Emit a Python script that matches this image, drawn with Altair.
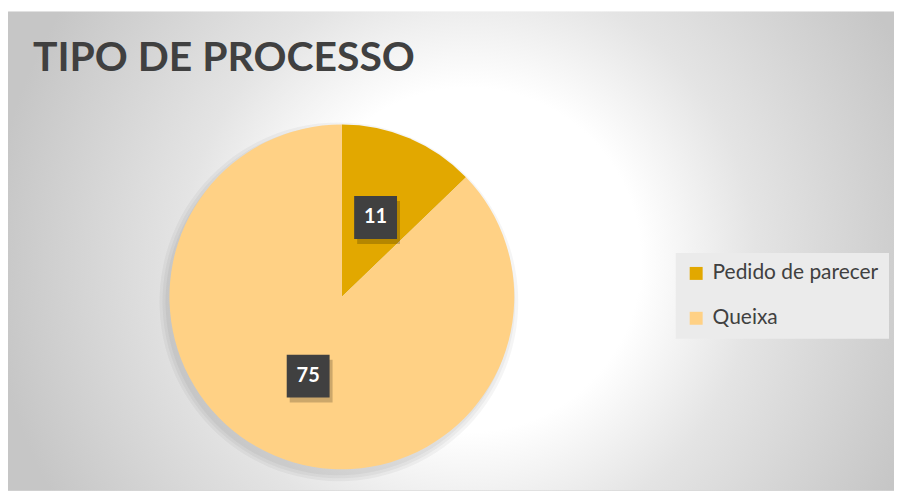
import altair as alt
import pandas as pd

categories = ["Pedido de parecer", "Queixa"]
values = [11, 75]
colors = ["#E2A800", "#FFD185"]
title_text = "TIPO DE PROCESSO"

df = pd.DataFrame({"tipo": categories, "valor": values})

W, H = 889, 480
CX, CY, R = 335, 286, 173

base = alt.Chart(df)

grad = alt.RadialGradient(
    gradient="radial",
    stops=[
        alt.GradientStop(offset=0, color="#ffffff"),
        alt.GradientStop(offset=0.36, color="#ffffff"),
        alt.GradientStop(offset=0.6, color="#e4e4e4"),
        alt.GradientStop(offset=1, color="#c6c6c6"),
    ],
    x1=0.52, y1=0.51, r1=0, x2=0.52, y2=0.51, r2=0.54,
)

bg = base.mark_rect(color=grad).encode(
    x=alt.value(0), x2=alt.value(W), y=alt.value(0), y2=alt.value(H)
)

shadows = [
    base.mark_arc(x=CX - 3, y=CY + 5, radius=R + r, color="black", opacity=0.04).encode(
        theta=alt.Theta("valor:Q", stack=True)
    )
    for r in (7, 4, 1)
]

pie = base.mark_arc(x=CX, y=CY, radius=R).encode(
    theta=alt.Theta("valor:Q", stack=True),
    color=alt.Color(
        "tipo:N",
        scale=alt.Scale(domain=categories, range=colors),
        legend=alt.Legend(title=None),
    ),
    order=alt.Order("tipo:N"),
)

lab = base.transform_joinaggregate(total="sum(valor)").transform_window(
    cum="sum(valor)", sort=[alt.SortField("tipo")], frame=[None, 0]
).transform_calculate(
    ang="(datum.cum - datum.valor/2)/datum.total*2*PI",
    lx="0.5*sin(datum.ang)",
    ly="0.5*cos(datum.ang)",
)
xenc = alt.X("lx:Q", scale=alt.Scale(domain=[-1, 1], range=[CX - R, CX + R]), axis=None)
yenc = alt.Y("ly:Q", scale=alt.Scale(domain=[-1, 1], range=[CY + R, CY - R]), axis=None)

sq_shadow = lab.mark_square(size=1850, color="black", opacity=0.2, xOffset=3, yOffset=5).encode(x=xenc, y=yenc)
sq = lab.mark_square(size=1850, color="#404040", opacity=1).encode(x=xenc, y=yenc)
txt = lab.mark_text(font="Lato", fontSize=20, fontWeight="bold", color="white", baseline="middle").encode(
    x=xenc, y=yenc, text="valor:Q"
)

chart = alt.layer(bg, *shadows, pie, sq_shadow, sq, txt).properties(
    width=W,
    height=H,
    padding={"left": 0, "top": 3, "right": 0, "bottom": 0},
    title=alt.Title(
        title_text, anchor="start", font="Lato", fontSize=41, fontWeight="bold",
        color="#404040", offset=-68, dx=25,
    ),
).configure_view(stroke="#d0d0d0").configure_legend(
    orient="none", legendX=670, legendY=242, fillColor="#ebebeb", padding=10,
    symbolType="square", symbolSize=169, symbolStrokeWidth=0, labelFont="Lato",
    labelFontSize=21, labelColor="#404040", rowPadding=23, labelOffset=6,
    labelLimit=400,
)

chart.save("out.html", embed_options={"renderer": "svg", "actions": False})
